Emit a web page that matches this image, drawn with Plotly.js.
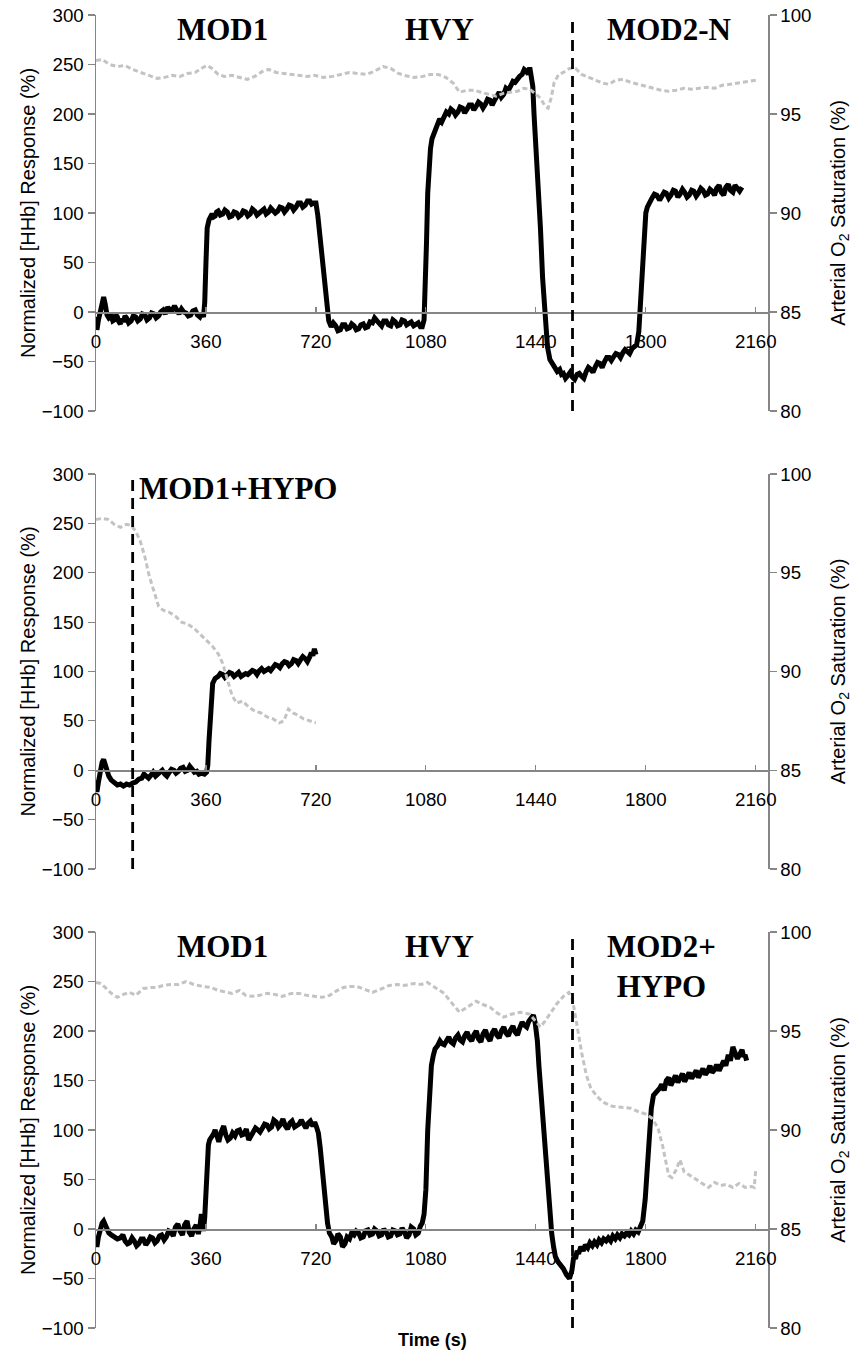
<!DOCTYPE html>
<html>
<head>
<meta charset="utf-8">
<script src="https://cdn.plot.ly/plotly-3.0.1.min.js"></script>
<style>html,body{margin:0;padding:0;background:#fff;}#chart{width:853px;height:1353px;}</style>
</head>
<body>
<div id="chart"></div>
<script>
// ---------- Panel 1 (MOD1 / HVY / MOD2-N) ----------
const T1_HHB = [0,3,8,14,20,25,30,36,42,50,55,60,65,70,75,80,85,90,95,100,107,115,122,130,137,145,152,160,167,175,182,190,197,205,212,220,227,235,242,250,257,265,272,280,287,295,302,310,317,325,332,340,346,352,356,360,364,370,375,380,385,390,395,400,407,415,422,430,437,445,452,460,467,475,482,490,497,505,512,520,527,535,542,550,557,565,572,580,587,595,602,610,617,625,632,640,647,655,662,670,677,685,692,700,706,712,720,726,732,738,744,750,756,762,770,777,785,792,800,807,815,822,830,837,845,852,860,867,875,882,890,897,905,912,920,927,935,942,950,957,965,972,980,987,995,1002,1010,1017,1025,1032,1040,1047,1055,1062,1068,1074,1078,1082,1086,1090,1095,1100,1108,1116,1125,1132,1140,1147,1155,1162,1170,1177,1185,1192,1200,1207,1215,1222,1230,1237,1245,1252,1260,1267,1275,1282,1290,1297,1305,1312,1320,1327,1335,1342,1350,1357,1365,1372,1380,1387,1395,1402,1410,1415,1420,1425,1430,1434,1438,1444,1448,1455,1462,1470,1478,1486,1494,1502,1510,1518,1524,1530,1537,1545,1552,1560,1567,1575,1582,1590,1597,1605,1612,1620,1627,1635,1642,1650,1657,1665,1672,1680,1687,1695,1702,1710,1717,1725,1732,1740,1747,1755,1762,1770,1777,1785,1790,1795,1800,1805,1810,1815,1820,1828,1836,1845,1852,1860,1867,1875,1882,1890,1897,1905,1912,1920,1927,1935,1942,1950,1957,1965,1972,1980,1987,1995,2002,2010,2017,2025,2032,2040,2047,2055,2062,2070,2077,2085,2092,2100,2107,2115,2122,2130,2137,2145,2152,2160];
const HHB_1 = [-5,-18,-8,2,13,15,8,-3,-6,-4,-9,-8,-3,-5,-10,-12,-7,-10,-4,-6,-11,-9,-4,-5,-9,-7,-2,-3,-8,-6,-1,-2,-6,-4,0,2,-2,5,1,2,6,0,-2,3,0,-1,-4,-3,1,2,-3,-5,-1,-5,10,50,85,93,95,99,96,97,101,102,98,99,103,101,96,97,101,100,96,98,102,101,97,99,104,102,98,100,103,104,99,101,105,103,100,102,106,105,101,104,108,107,103,106,110,110,106,108,112,112,109,110,110,98,80,60,40,20,3,-9,-15,-11,-14,-19,-18,-13,-13,-17,-16,-12,-14,-18,-17,-13,-12,-16,-15,-10,-11,-6,-9,-12,-14,-9,-9,-13,-14,-8,-10,-14,-13,-8,-9,-13,-12,-10,-14,-12,-11,-15,-15,-8,20,70,120,150,165,175,182,190,195,192,198,202,200,205,203,199,202,207,206,201,205,209,209,204,208,212,210,206,210,215,214,209,214,219,222,217,220,226,224,228,233,232,236,238,240,245,243,240,247,238,228,200,180,150,125,85,35,0,-35,-48,-52,-55,-60,-58,-63,-62,-67,-64,-61,-66,-68,-63,-62,-65,-67,-60,-56,-58,-61,-55,-51,-52,-56,-50,-46,-46,-49,-45,-42,-43,-46,-41,-38,-40,-42,-37,-35,-33,-20,20,60,85,100,106,110,114,115,119,118,113,116,121,120,115,118,123,122,116,119,124,121,116,118,123,122,117,120,125,123,118,119,124,122,118,125,128,121,118,126,129,123,121,128,124,122,126];
const T1_SAO2 = [0,20,45,70,95,120,145,170,200,225,250,275,300,325,350,365,380,400,420,445,470,495,520,545,565,590,615,640,665,690,715,745,775,800,830,855,885,910,940,965,990,1010,1040,1070,1095,1120,1145,1170,1190,1215,1240,1260,1285,1310,1335,1360,1380,1400,1420,1440,1455,1470,1480,1490,1500,1515,1530,1550,1570,1590,1615,1640,1660,1680,1700,1725,1750,1775,1800,1825,1850,1875,1900,1925,1950,1975,2000,2025,2050,2075,2100,2125,2150,2160];
const SAO2_1 = [97.7,97.75,97.5,97.4,97.45,97.25,97.1,96.95,96.8,96.85,96.95,96.9,97.05,97.1,97.35,97.45,97.3,97.0,96.9,96.95,96.85,96.75,96.9,97.15,97.25,97.1,97.05,97.0,96.95,96.9,96.95,96.85,96.9,97.0,97.1,97.05,97.0,97.15,97.4,97.3,97.05,96.95,96.85,96.9,97.0,97.0,96.85,96.55,96.1,96.2,96.2,96.1,96.0,95.9,96.05,96.1,96.15,96.3,96.25,96.0,95.8,95.4,95.3,95.8,96.6,97.0,97.1,97.3,97.3,97.0,96.85,96.7,96.55,96.5,96.7,96.75,96.6,96.5,96.4,96.3,96.2,96.15,96.2,96.3,96.25,96.3,96.35,96.3,96.45,96.5,96.55,96.6,96.65,96.7];

// ---------- Panel 2 (MOD1+HYPO) ----------
const T2_HHB = [0,3,8,14,20,25,30,36,42,50,60,70,80,90,100,110,120,130,140,150,157,165,172,180,187,195,202,210,217,225,232,240,247,255,262,270,277,285,292,300,307,315,322,330,337,345,355,362,366,370,374,378,382,390,400,407,415,422,430,437,445,452,460,467,475,482,490,497,505,512,520,527,535,542,550,557,565,572,580,587,595,602,610,617,625,632,640,647,655,662,670,677,685,692,700,705,710,715,720];
const HHB_2 = [-10,-22,-12,0,8,11,5,-3,-6,-10,-13,-15,-14,-16,-14,-15,-13,-12,-9,-8,-4,-6,-8,-5,-2,-6,-4,-3,0,-4,-6,-2,1,0,-3,-1,2,3,-1,0,4,1,-2,-1,-4,-3,-4,-2,5,30,55,75,88,93,95,98,97,94,96,99,98,95,97,99,95,96,98,97,99,101,100,97,101,103,100,102,103,101,105,107,106,104,108,110,109,106,108,112,111,108,112,115,113,110,115,119,116,123,117];
const T2_SAO2 = [0,20,40,60,80,100,115,130,145,160,175,190,205,220,240,260,280,300,320,340,360,380,400,415,430,445,460,480,500,520,540,560,580,600,615,630,645,660,680,700,720];
const SAO2_2 = [97.7,97.75,97.7,97.45,97.3,97.45,97.4,97.1,96.6,95.8,94.8,94.0,93.3,93.1,93.0,92.8,92.5,92.4,92.2,91.9,91.6,91.3,90.9,90.4,89.6,88.8,88.4,88.5,88.2,88.0,87.9,87.7,87.6,87.4,87.5,88.1,87.9,87.8,87.6,87.5,87.4];

// ---------- Panel 3 (MOD1 / HVY / MOD2+HYPO) ----------
const T3_HHB = [0,3,8,14,20,25,30,36,42,50,60,70,80,88,95,103,110,118,125,133,140,148,155,163,170,178,185,193,200,208,215,223,230,238,245,253,260,268,275,283,290,298,305,313,320,328,335,340,345,352,356,360,364,368,372,378,385,390,395,402,410,418,425,432,440,447,455,462,470,477,485,492,500,507,515,522,530,537,545,552,560,567,575,582,590,597,605,612,620,627,635,642,650,657,665,672,680,687,695,702,710,716,722,728,734,740,746,752,758,764,772,778,785,792,800,807,815,822,830,837,845,852,860,867,875,882,890,897,905,912,920,927,935,942,950,957,965,972,980,987,995,1002,1010,1017,1025,1032,1040,1047,1055,1062,1068,1074,1080,1086,1092,1098,1104,1110,1118,1126,1133,1140,1147,1155,1162,1170,1177,1185,1192,1200,1207,1215,1222,1230,1237,1245,1252,1260,1267,1275,1282,1290,1297,1305,1312,1320,1327,1335,1342,1350,1357,1365,1372,1380,1387,1395,1402,1410,1417,1425,1432,1438,1445,1450,1456,1462,1468,1474,1480,1486,1492,1498,1504,1512,1520,1530,1540,1550,1558,1564,1570,1575,1580,1587,1595,1602,1610,1617,1625,1632,1640,1647,1655,1662,1670,1677,1685,1692,1700,1707,1715,1722,1730,1737,1745,1752,1760,1767,1775,1782,1790,1798,1803,1808,1813,1818,1825,1835,1845,1852,1860,1867,1875,1882,1890,1897,1905,1912,1920,1927,1935,1942,1950,1957,1965,1972,1980,1987,1995,2002,2010,2017,2025,2032,2040,2047,2055,2062,2070,2077,2085,2092,2100,2105,2110,2115,2120,2125,2130,2135,2140,2145,2150,2155,2160];
const HHB_3 = [-10,-18,-8,0,6,8,4,-2,-4,-6,-8,-10,-9,-6,-12,-15,-14,-9,-12,-17,-15,-10,-10,-16,-13,-8,-9,-14,-12,-7,-6,-11,-8,-2,-3,-7,2,5,-2,-6,4,8,-3,-7,0,4,-5,2,15,-2,12,40,70,85,90,92,96,100,94,88,98,104,95,90,92,97,94,99,100,95,96,101,90,94,97,102,100,98,102,106,105,101,103,110,108,103,106,111,104,101,107,109,103,105,106,110,104,102,107,109,104,108,103,97,82,62,42,22,6,-4,-8,-15,-12,-5,-8,-18,-15,-8,-10,-4,-6,-2,-4,-9,-8,-2,-1,-6,-5,0,-2,-7,-6,0,-3,-8,-7,-1,-2,-6,-5,1,-3,-9,-6,2,0,-6,-4,3,6,15,40,100,140,165,175,182,185,190,187,186,190,194,189,187,193,196,191,189,195,199,193,190,196,200,192,189,197,201,194,190,198,202,196,193,200,204,198,195,201,205,199,196,203,209,206,204,210,213,216,208,190,165,140,120,95,70,40,15,-5,-18,-28,-33,-36,-40,-46,-50,-42,-28,-30,-22,-25,-18,-22,-16,-19,-14,-17,-13,-16,-11,-14,-10,-12,-9,-12,-7,-10,-6,-9,-5,-7,-4,-6,-2,-5,-1,-3,2,8,30,55,85,105,122,135,138,142,146,140,150,153,145,150,155,148,152,157,149,153,158,152,155,160,153,157,162,156,159,165,158,161,166,160,164,170,165,176,170,184,178,172,175,178,181,174,176,170];
const T3_SAO2 = [0,15,30,50,70,90,110,130,155,180,200,220,245,270,295,320,350,375,400,425,445,470,490,510,535,560,585,610,640,665,690,715,740,765,790,810,830,855,880,905,930,960,985,1010,1040,1065,1085,1100,1120,1140,1160,1190,1215,1245,1265,1290,1310,1335,1360,1390,1420,1440,1455,1470,1490,1510,1530,1548,1560,1575,1590,1605,1620,1640,1660,1690,1720,1750,1780,1800,1820,1840,1855,1865,1875,1885,1900,1912,1925,1945,1965,1985,2005,2025,2045,2065,2085,2105,2125,2145,2155,2160];
const SAO2_3 = [97.45,97.4,97.2,96.9,96.7,96.85,96.95,96.8,97.15,97.2,97.2,97.3,97.35,97.35,97.5,97.35,97.25,97.2,97.05,96.95,96.9,97.05,96.8,96.75,96.8,96.9,96.85,96.75,96.9,96.9,96.8,96.75,96.7,96.8,97.05,97.2,97.25,97.25,97.1,96.95,97.1,97.3,97.35,97.3,97.4,97.35,97.45,97.3,97.1,96.9,96.5,95.95,96.2,96.5,96.35,96.2,95.95,95.7,95.85,95.95,95.85,95.5,95.2,95.5,95.95,96.4,96.75,96.95,96.6,95.2,93.9,92.8,92.1,91.7,91.4,91.2,91.15,91.1,90.9,90.8,90.6,90.1,89.2,88.4,87.7,87.6,88.0,88.5,87.9,87.7,87.5,87.3,87.1,87.35,87.2,87.25,87.1,87.3,87.1,87.15,87.1,88.0];

// ---------- Labels ----------
const X_TICKS = [0,360,720,1080,1440,1800,2160];
const LEFT_TICKS = [-100,-50,0,50,100,150,200,250,300];
const RIGHT_TICKS = [80,85,90,95,100];
const LEFT_TITLE = 'Normalized [HHb] Response (%)';
const RIGHT_TITLE = 'Arterial O<sub>2</sub> Saturation (%)';
const X_TITLE = '<b>Time (s)</b>';
const MARKER_T = [1560, 120, 1560];   // dashed event lines per panel
const PANEL_LABELS = [
  [['MOD1',414],['HVY',1126],['MOD2-N',1875]],
  [['MOD1+HYPO',466]],
  [['MOD1',414],['HVY',1126],['MOD2+<br>HYPO',1850]]
];

// ---------- Layout helpers ----------
const W = 853, H = 1353;
const M = {l:96, r:85, t:15, b:25};
const plotH = H - M.t - M.b;
const panelPx = [[15,411],[474,869],[932,1328]]; // top,bottom in page px
const dom = panelPx.map(p => [(H - M.b - p[1]) / plotH, (H - M.b - p[0]) / plotH]);
const LRANGE = [-100, 300], RRANGE = [80, 100], XRANGE = [0, 2200];
const zeroFrac = (0 - LRANGE[0]) / (LRANGE[1] - LRANGE[0]);

const AXC = '#868686';
const tickFont = {family:'Liberation Sans, Arial, sans-serif', size:18.7, color:'#000'};
const titleFont = {family:'Liberation Sans, Arial, sans-serif', size:20, color:'#000'};
const lblFont = {family:'Liberation Serif, Times New Roman, serif', size:31, color:'#000'};

const tHHB = [T1_HHB, T2_HHB, T3_HHB], vHHB = [HHB_1, HHB_2, HHB_3];
const tSAO = [T1_SAO2, T2_SAO2, T3_SAO2], vSAO = [SAO2_1, SAO2_2, SAO2_3];

const data = [];
const layout = {
  width: W, height: H, margin: M, showlegend: false,
  paper_bgcolor: '#fff', plot_bgcolor: 'rgba(0,0,0,0)',
  shapes: [], annotations: []
};

for (let i = 0; i < 3; i++) {
  const xn = i === 0 ? 'x' : 'x' + (i + 1);
  const yl = 'y' + (i === 0 ? '' : (2 * i + 1));
  const yr = 'y' + (2 * i + 2);
  data.push({x: tHHB[i], y: vHHB[i], xaxis: xn, yaxis: yl, type: 'scatter', mode: 'lines',
             line: {color: '#000', width: 5}, hoverinfo: 'skip'});
  data.push({x: tSAO[i], y: vSAO[i], xaxis: xn, yaxis: yr, type: 'scatter', mode: 'lines',
             line: {color: '#c3c3c3', width: 3, dash: '5px,3px'}, hoverinfo: 'skip'});

  const xk = i === 0 ? 'xaxis' : 'xaxis' + (i + 1);
  const ylk = 'yaxis' + (i === 0 ? '' : (2 * i + 1));
  const yrk = 'yaxis' + (2 * i + 2);
  layout[xk] = {
    domain: [0, 1], range: XRANGE, anchor: 'free',
    position: dom[i][0] + zeroFrac * (dom[i][1] - dom[i][0]),
    tickvals: X_TICKS, ticktext: X_TICKS.map(String),
    ticks: 'inside', ticklen: 5, tickcolor: AXC, tickwidth: 1.2,
    showline: true, linecolor: AXC, linewidth: 1.5,
    showgrid: false, zeroline: false, tickfont: tickFont, ticklabelstandoff: 12,
    fixedrange: true
  };
  layout[ylk] = {
    domain: dom[i], range: LRANGE, anchor: xn,
    tickvals: LEFT_TICKS, ticks: 'outside', ticklen: 7, tickcolor: AXC, tickwidth: 1.2,
    showline: true, linecolor: AXC, linewidth: 1.5, showgrid: false, zeroline: false,
    tickfont: tickFont, title: {text: LEFT_TITLE, font: titleFont, standoff: 0}
  };
  layout[yrk] = {
    domain: dom[i], range: RRANGE, anchor: xn, overlaying: yl, side: 'right',
    tickvals: RIGHT_TICKS, ticks: 'outside', ticklen: 7, tickcolor: AXC, tickwidth: 1.2,
    showline: true, linecolor: AXC, linewidth: 1.5, showgrid: false, zeroline: false,
    tickfont: tickFont, title: {text: RIGHT_TITLE, font: titleFont, standoff: 20}
  };
  layout.shapes.push({type: 'line', xref: xn, yref: yl, x0: MARKER_T[i], x1: MARKER_T[i],
                      y0: LRANGE[0], y1: LRANGE[1], line: {color: '#000', width: 2.8, dash: '11px,7px'}});
  PANEL_LABELS[i].forEach(([txt, tx]) => {
    layout.annotations.push({xref: xn, yref: yl, x: tx, y: 285, yanchor: txt.includes('<br>') ? 'top' : 'middle',
      yshift: txt.includes('<br>') ? 20 : 0,
      text: '<b>' + txt + '</b>', showarrow: false, font: lblFont});
  });
}
layout.annotations.push({xref: 'paper', yref: 'paper', x: 0.5, y: 0, yshift: -12, yanchor: 'middle',
  text: X_TITLE, showarrow: false, font: {family:'Liberation Sans, Arial, sans-serif', size:18, color:'#000'}});

Plotly.newPlot('chart', data, layout, {staticPlot: true});
</script>
</body>
</html>
